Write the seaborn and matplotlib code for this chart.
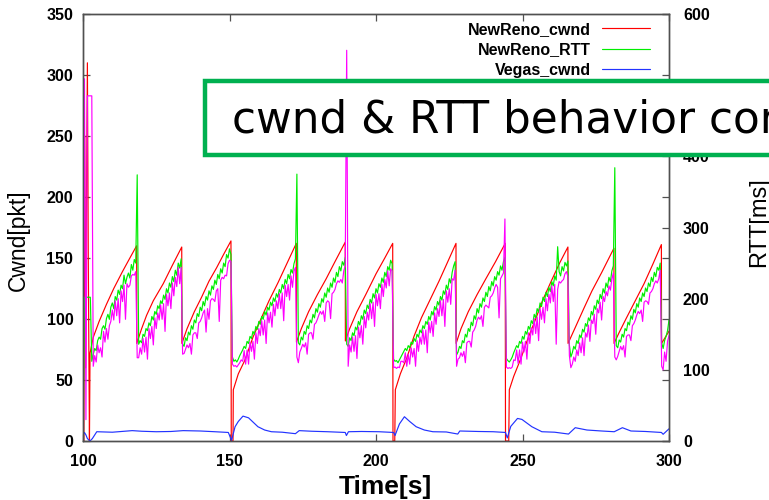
import numpy as np
import pandas as pd
import matplotlib
matplotlib.use("Agg")
import matplotlib.pyplot as plt
from matplotlib.patches import Rectangle
import seaborn as sns

# ---------------- data ----------------
# NewReno congestion window [pkt]
newreno_cwnd_t = [100.0, 100.3, 100.6, 100.9, 101.2, 101.5, 101.8, 102.2, 102.4,
                  103.5, 105.5, 108.0, 110.5, 113.5, 116.0, 118.3,
                  118.35, 120.0, 121.7, 124.0, 127.4, 130.5, 133.7,
                  133.75, 135.5, 138.0, 140.5, 143.0, 145.6, 148.0, 150.5,
                  150.6, 151.2, 151.3, 153.0, 155.2, 158.0, 160.9, 163.5, 166.6, 169.5, 172.8,
                  172.85, 174.5, 177.0, 180.0, 183.0, 186.0, 189.5,
                  189.55, 191.0, 193.5, 196.5, 200.0, 203.0, 205.7,
                  205.8, 206.4, 206.6, 208.3, 210.5, 213.0, 215.5, 218.5, 221.5, 224.5, 227.3,
                  227.35, 229.0, 231.5, 234.5, 237.5, 240.8, 244.1,
                  244.2, 245.3, 245.5, 247.0, 249.5, 252.0, 254.5, 257.0, 259.8, 262.7, 265.5,
                  265.55, 268.0, 271.0, 273.7, 277.0, 281.2,
                  281.25, 283.0, 285.5, 288.5, 291.5, 294.5, 297.4,
                  297.45, 300.0]
newreno_cwnd = [120, 0, 250, 60, 200, 310, 150, 0, 72,
                85, 98, 112, 125, 139, 150, 160,
                80, 92, 103, 115, 129, 144, 159,
                80, 92, 106, 118, 131, 142, 153, 164,
                0, 0, 42, 55, 66, 85, 101, 115, 130, 145, 162,
                81, 92, 106, 120, 133, 147, 163,
                82, 92, 106, 120, 137, 150, 162,
                0, 0, 42, 55, 68, 86, 101, 116, 131, 147, 162,
                80, 92, 106, 120, 133, 147, 162,
                0, 0, 42, 53, 68, 85, 100, 116, 131, 146, 159,
                80, 93, 109, 123, 138, 158,
                80, 89, 101, 115, 129, 145, 161,
                80, 90]

# Vegas congestion window [pkt]
vegas_cwnd_t = [100.0, 100.5, 101.0, 101.5, 102.4, 103.2, 104.7, 110, 116.8, 120,
                125, 130, 134.2, 140, 145, 149.6, 150.7, 151.9, 153.0, 154.6,
                156.5, 159.7, 162, 164.3, 168, 172.5, 173.8, 178, 183.5, 189.5,
                189.9, 190.6, 195, 201, 206.0, 206.5, 208.0, 209.7, 211.5, 213.7,
                216.5, 219.4, 224, 227.9, 228.6, 235, 240, 244.2, 244.8, 246.0,
                248.3, 249.8, 253.2, 256.6, 261, 265.7, 268.0, 272, 277, 281.3,
                284.1, 287, 292, 297.4, 298.0, 300.0]
vegas_cwnd = [4.5, 7, 5, 2, 0, 2, 7.6, 7.2, 8.5, 8,
              7.6, 7.8, 8.5, 8.2, 7.6, 7, 0.5, 11.7, 16, 20.4,
              19, 11.7, 9, 7.6, 7.2, 6, 8.5, 8, 7.6, 7,
              4.5, 7.6, 7.8, 7.6, 7, 4.5, 14, 19.9, 16, 11.7,
              9, 7.6, 7.4, 5.7, 8.2, 7.8, 7.6, 7, 2.5, 12,
              18.5, 17.7, 11.7, 7.6, 7.2, 5.7, 10.9, 9, 8.2, 7.6,
              10.9, 8.2, 7.8, 7, 5.5, 10]

# RTT samples [ms], one every 0.5 s starting at t = 100 s
rtt_start, rtt_step = 100.0, 0.5
newreno_rtt = [
    0, 202, 202, 202, 202, 202, 112,
    122, 130, 127, 141, 146, 143, 158, 162, 157, 172, 178, 171, 188, 194, 186,
    203, 198, 212, 206, 219, 214, 233, 221, 230, 236, 229, 248, 240, 255, 250,
    374,
    136, 141, 138, 150, 147, 158, 155, 166, 162, 175, 170, 182, 178, 190, 186,
    197, 193, 205, 199, 214, 208, 222, 216, 231, 224, 240, 233, 250, 243, 256,
    136, 133, 145, 141, 153, 149, 162, 157, 170, 166, 179, 175, 188, 183, 196,
    190, 203, 198, 211, 205, 218, 213, 226, 220, 234, 228, 242, 236, 250, 245,
    262, 257, 270, 262,
    118, 112, 114, 111, 115, 120, 124, 128, 133, 130, 140, 137, 147, 144, 154,
    150, 161, 157, 168, 164, 175, 171, 182, 177, 188, 184, 195, 190, 201, 196,
    207, 202, 213, 208, 220, 214, 227, 221, 234, 228, 241, 236, 249, 256,
    375,
    138, 135, 146, 142, 154, 150, 162, 158, 170, 166, 178, 173, 186, 181, 193,
    188, 200, 195, 208, 202, 215, 209, 222, 216, 229, 223, 237, 231, 245, 239,
    252, 247, 258,
    136, 133, 145, 141, 152, 148, 160, 156, 168, 163, 176, 171, 184, 179, 191,
    186, 199, 194, 207, 201, 214, 208, 221, 216, 229, 223, 237, 231, 245, 240,
    254, 249,
    115, 112, 113, 110, 114, 118, 122, 126, 130, 127, 134, 131, 139, 136, 144,
    140, 150, 146, 156, 152, 162, 158, 168, 164, 175, 170, 182, 177, 189, 184,
    196, 191, 203, 198, 211, 206, 219, 213, 228, 222, 237, 246, 252,
    121, 125, 133, 130, 141, 138, 150, 146, 158, 154, 167, 162, 176, 171, 186,
    180, 193, 188, 201, 196, 209, 203, 217, 211, 224, 218, 231, 226, 238, 233,
    246, 240, 252, 258,
    116, 113, 111, 114, 118, 124, 129, 134, 131, 140, 137, 147, 143, 154, 150,
    161, 157, 169, 165, 178, 173, 186, 181, 194, 189, 202, 196, 209, 203, 216,
    210, 224, 218, 232, 226, 273, 238, 232, 245, 239, 251, 246, 253,
    135, 118, 124, 133, 129, 141, 137, 149, 145, 157, 153, 165, 161, 173, 169,
    182, 177, 190, 185, 198, 193, 206, 200, 214, 208, 222, 216, 230, 224, 239,
    246, 384,
    134, 131, 142, 139, 150, 146, 158, 155, 167, 163, 176, 171, 185, 180, 193,
    188, 201, 196, 208, 203, 215, 210, 222, 217, 230, 224, 237, 231, 244, 240,
    250,
    138, 130, 141, 147, 155, 170]

vegas_rtt = [
    0, 509, 30, 485, 485, 485, 485,
    105, 120, 111, 135, 124, 131, 118, 154, 139, 158, 143, 162, 168, 184, 170,
    197, 176, 200, 166, 211, 196, 219, 171, 221, 216, 219, 232, 234, 233, 238,
    117,
    117, 131, 122, 144, 125, 146, 115, 158, 144, 161, 135, 173, 158, 180, 170,
    191, 171, 193, 154, 206, 190, 208, 186, 222, 204, 230, 217, 244, 221, 244,
    122, 123, 129, 135, 131, 137, 122, 149, 152, 152, 144, 166, 168, 173, 180,
    184, 153, 186, 171, 197, 200, 199, 196, 211, 214, 168, 226, 230, 228, 233,
    232, 249, 254, 252,
    108, 105, 106, 104, 107, 110, 114, 112, 127, 108, 128, 108, 139, 126, 140,
    115, 152, 137, 158, 148, 169, 149, 170, 137, 180, 166, 181, 160, 192, 176,
    197, 186, 207, 186, 208, 169, 219, 203, 220, 198, 232, 216, 239, 244,
    118,
    110, 125, 130, 136, 132, 138, 122, 150, 152, 152, 143, 164, 166, 171, 177,
    182, 178, 183, 168, 194, 197, 195, 172, 207, 209, 213, 221, 225, 223, 227,
    222, 239, 246,
    549, 105, 135, 125, 146, 126, 148, 116, 160, 145, 162, 136, 175, 159, 181,
    170, 193, 172, 195, 161, 206, 190, 207, 186, 220, 203, 227, 215, 239, 218,
    242, 239,
    103, 104, 102, 104, 103, 112, 112, 110, 124, 105, 122, 108, 131, 118, 130,
    105, 141, 126, 146, 136, 156, 136, 156, 124, 167, 152, 168, 147, 180, 164,
    186, 175, 197, 176, 199, 161, 211, 195, 214, 192, 228, 226, 240,
    105, 115, 117, 124, 119, 126, 110, 138, 140, 140, 132, 153, 156, 161, 170,
    174, 171, 176, 161, 188, 191, 189, 187, 202, 204, 208, 215, 220, 216, 173,
    228, 232, 236, 312,
    104, 102, 103, 102, 104, 114, 113, 128, 109, 128, 108, 139, 125, 140, 115,
    152, 137, 159, 149, 172, 151, 174, 141, 186, 171, 188, 166, 200, 183, 206,
    194, 218, 196, 220, 136, 213, 224, 222, 225, 227, 235, 238, 231,
    120, 103, 108, 118, 112, 128, 120, 138, 124, 145, 120, 152, 146, 163, 140,
    170, 165, 178, 150, 186, 180, 195, 170, 203, 196, 210, 204, 218, 212, 228,
    236, 118,
    114, 119, 126, 133, 128, 134, 118, 147, 149, 149, 141, 162, 165, 170, 177,
    182, 179, 184, 168, 195, 197, 196, 192, 208, 210, 214, 221, 225, 222, 228,
    240,
    105, 100, 125, 112, 140, 148]

series_labels = ["NewReno_cwnd", "NewReno_RTT", "Vegas_cwnd", "Vegas_RTT"]
time_ticks = [100, 150, 200, 250, 300]
cwnd_ticks = [0, 50, 100, 150, 200, 250, 300, 350]
rtt_ticks = [0, 100, 200, 300, 400, 500, 600]
banner_text = "cwnd & RTT behavior comparison"

# ---------------- styling ----------------
sns.set_style("white")
plt.rcParams["font.family"] = ["Liberation Sans", "DejaVu Sans"]
plt.rcParams.update({"text.color": "black", "axes.labelcolor": "black",
                     "xtick.color": "black", "ytick.color": "black"})

colors = {"NewReno_cwnd": "#ff0000", "NewReno_RTT": "#00ee00",
          "Vegas_cwnd": "#2233ff", "Vegas_RTT": "#ff00ff"}
spine_col = "#505050"

W, H = 769, 500
fig = plt.figure(figsize=(W / 100, H / 100), dpi=100)
fig.patch.set_facecolor("white")
ax = fig.add_axes([83 / W, 1 - 441 / H, 586 / W, 427 / H])
ax2 = ax.twinx()

cwnd_df = pd.DataFrame({"t": newreno_cwnd_t, "v": newreno_cwnd})
vcwnd_df = pd.DataFrame({"t": vegas_cwnd_t, "v": vegas_cwnd})
nr_rtt_df = pd.DataFrame({"t": rtt_start + rtt_step * np.arange(len(newreno_rtt)),
                          "v": newreno_rtt})
vg_rtt_df = pd.DataFrame({"t": rtt_start + rtt_step * np.arange(len(vegas_rtt)),
                          "v": vegas_rtt})

lw = 0.85
sns.lineplot(data=cwnd_df, x="t", y="v", ax=ax, color=colors["NewReno_cwnd"],
             lw=lw, estimator=None, sort=False, legend=False)
sns.lineplot(data=vcwnd_df, x="t", y="v", ax=ax, color=colors["Vegas_cwnd"],
             lw=lw, estimator=None, sort=False, legend=False)
sns.lineplot(data=nr_rtt_df, x="t", y="v", ax=ax2, color=colors["NewReno_RTT"],
             lw=lw, estimator=None, sort=False, legend=False)
sns.lineplot(data=vg_rtt_df, x="t", y="v", ax=ax2, color=colors["Vegas_RTT"],
             lw=lw, estimator=None, sort=False, legend=False)

handles = {
    "NewReno_cwnd": ax.lines[0], "Vegas_cwnd": ax.lines[1],
    "NewReno_RTT": ax2.lines[0], "Vegas_RTT": ax2.lines[1],
}

ax.set_xlim(100, 300)
ax.set_ylim(0, 350)
ax2.set_ylim(0, 600)
ax.set_xticks(time_ticks)
ax.set_yticks(cwnd_ticks)
ax2.set_yticks(rtt_ticks)

for a in (ax, ax2):
    for s in a.spines.values():
        s.set_color(spine_col)
        s.set_linewidth(1.0)

ax.tick_params(axis="x", direction="in", length=5, width=0.9, color=spine_col,
               labelcolor="black", top=True, bottom=True, pad=9, labelsize=11.5)
ax.tick_params(axis="y", direction="in", length=5, width=0.9, color=spine_col,
               labelcolor="black", left=True, right=True, pad=7, labelsize=11.5)
ax2.tick_params(axis="y", direction="in", length=5, width=0.9, color=spine_col,
                labelcolor="black", left=False, right=True, pad=10, labelsize=11.5)
for lbl in ax.get_xticklabels() + ax.get_yticklabels() + ax2.get_yticklabels():
    lbl.set_fontweight("bold")

ax.set_xlabel("Time[s]", fontsize=19, fontweight="bold", color="black")
ax.xaxis.set_label_coords((385 - 83) / 586, -(487 - 441) / 427)
ax.xaxis.label.set_va("center")
ax.set_ylabel("Cwnd[pkt]", fontsize=16.5, color="black")
ax.yaxis.set_label_coords((18 - 83) / 586, (441 - 240) / 427)
ax.yaxis.label.set_va("center")
ax2.set_ylabel("RTT[ms]", fontsize=17, color="black")
ax2.yaxis.set_label_coords((759 - 83) / 586, (441 - 222) / 427)
ax2.yaxis.label.set_va("center")
ax2.yaxis.label.set_rotation(90)

ax.grid(False)
ax2.grid(False)

leg = ax2.legend([handles[k] for k in series_labels], series_labels,
                 loc="upper right", bbox_to_anchor=(650 / W, 1 - 22 / H),
                 bbox_transform=fig.transFigure, frameon=False, markerfirst=False,
                 handlelength=3.0, handletextpad=0.7, borderpad=0, borderaxespad=0,
                 labelspacing=0.34, prop={"weight": "bold", "size": 11.5})
for txt in leg.get_texts():
    txt.set_color("black")

# title banner overlaid on the figure
banner = Rectangle((205 / W, 1 - 155 / H), (820 - 205) / W, 74 / H,
                   transform=fig.transFigure, facecolor="white",
                   edgecolor="#00b050", linewidth=3.2, zorder=20)
fig.add_artist(banner)
fig.text(232 / W, 1 - 133 / H, banner_text, fontsize=31.5,
         family="DejaVu Sans", ha="left", va="baseline", color="black", zorder=21)

fig.savefig("out.png", dpi=100)
